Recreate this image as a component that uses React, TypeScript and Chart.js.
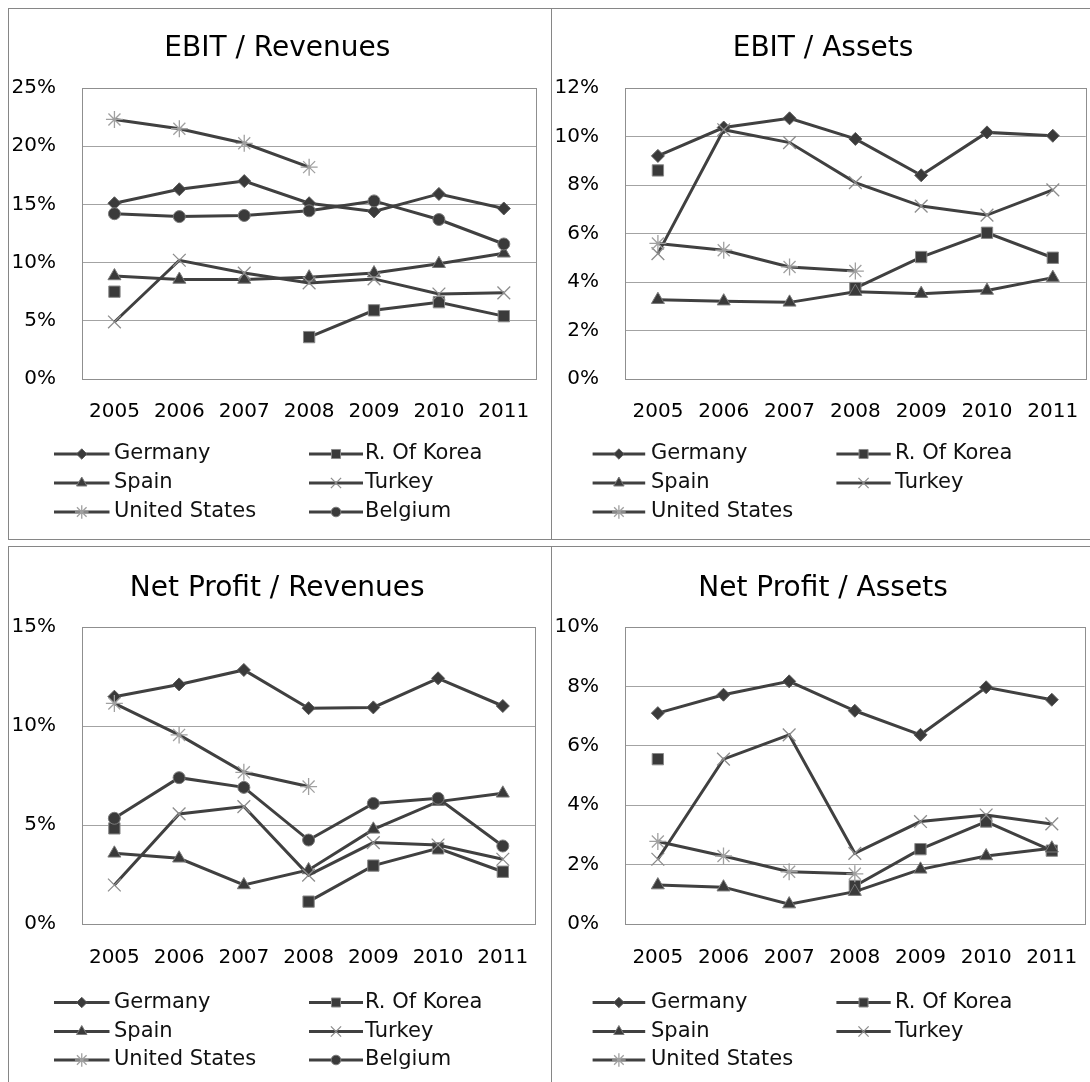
import React, { useEffect, useRef } from 'react';
import { Chart, registerables } from 'chart.js';
import { drawPoint } from 'chart.js/helpers';

Chart.register(...registerables);

const FONT = 'DejaVu Sans';

// ---------- data ----------
const years = ['2005', '2006', '2007', '2008', '2009', '2010', '2011'];
const seriesNames = ['Germany', 'R. Of Korea', 'Spain', 'Turkey', 'United States', 'Belgium'];

// EBIT / Revenues (%)
const erGermany = [15.1, 16.3, 17.0, 15.1, 14.4, 15.9, 14.65];
const erKorea = [7.5, null, null, 3.6, 5.9, 6.6, 5.4];
const erSpain = [8.85, 8.55, 8.55, 8.75, 9.1, 9.9, 10.8];
const erTurkey = [4.9, 10.2, 9.1, 8.25, 8.6, 7.3, 7.4];
const erUS = [22.3, 21.5, 20.25, 18.2, null, null, null];
const erBelgium = [14.2, 13.95, 14.05, 14.45, 15.3, 13.7, 11.6];

// EBIT / Assets (%)
const eaGermany = [9.2, 10.37, 10.75, 9.9, 8.4, 10.17, 10.03];
const eaKorea = [8.6, null, null, 3.75, 5.03, 6.03, 5.0];
const eaSpain = [3.27, 3.21, 3.16, 3.6, 3.52, 3.65, 4.18];
const eaTurkey = [5.17, 10.28, 9.75, 8.1, 7.13, 6.76, 7.8];
const eaUS = [5.59, 5.31, 4.62, 4.45, null, null, null];

// Net Profit / Revenues (%)
const nrGermany = [11.48, 12.1, 12.83, 10.9, 10.94, 12.41, 11.01];
const nrKorea = [4.83, null, null, 1.13, 2.95, 3.82, 2.64];
const nrSpain = [3.57, 3.32, 1.97, 2.73, 4.78, 6.18, 6.6];
const nrTurkey = [1.97, 5.56, 5.93, 2.47, 4.11, 3.99, 3.27];
const nrUS = [11.14, 9.55, 7.66, 6.94, null, null, null];
const nrBelgium = [5.34, 7.39, 6.9, 4.24, 6.09, 6.35, 3.94];

// Net Profit / Assets (%)
const naGermany = [7.1, 7.72, 8.17, 7.18, 6.37, 7.97, 7.55];
const naKorea = [5.55, null, null, 1.28, 2.52, 3.45, 2.47];
const naSpain = [1.31, 1.24, 0.67, 1.09, 1.84, 2.29, 2.55];
const naTurkey = [2.18, 5.55, 6.37, 2.38, 3.45, 3.67, 3.37];
const naUS = [2.78, 2.29, 1.76, 1.69, null, null, null];

// ---------- styles ----------
const LINE = '#404040';
const markerStyles: any[] = [
  { pointStyle: 'rectRot', radius: 6.5, bg: '#3a3a3a', border: '#5a5a5a', bw: 1 },
  { pointStyle: 'rect', radius: 8, bg: '#3a3a3a', border: '#8a8a8a', bw: 1 },
  { pointStyle: 'triangle', radius: 7.5, bg: '#3a3a3a', border: '#7a7a7a', bw: 1 },
  { pointStyle: 'crossRot', radius: 9, bg: '#8c8c8c', border: '#8c8c8c', bw: 1.3 },
  { pointStyle: 'star', radius: 8.5, bg: '#a0a0a0', border: '#a0a0a0', bw: 1.3 },
  { pointStyle: 'circle', radius: 6, bg: '#3a3a3a', border: '#7a7a7a', bw: 1 },
];

function makeDatasets(series: (number | null)[][]) {
  return series.map((data, i) => {
    const m = markerStyles[i];
    return {
      label: seriesNames[i],
      data,
      borderColor: LINE,
      borderWidth: 3,
      pointStyle: m.pointStyle,
      pointRadius: m.radius,
      pointBackgroundColor: m.bg,
      pointBorderColor: m.border,
      pointBorderWidth: m.bw,
      tension: 0,
      spanGaps: false,
      order: series.length - i,
      fill: false,
    };
  });
}

const plotBorderPlugin = {
  id: 'plotBorder',
  beforeDatasetsDraw(chart: any) {
    const { ctx, chartArea } = chart;
    ctx.save();
    ctx.strokeStyle = '#8f8f8f';
    ctx.lineWidth = 1;
    const l = Math.round(chartArea.left) + 0.5;
    const t = Math.round(chartArea.top) + 0.5;
    const r = Math.round(chartArea.right) + 0.5;
    const b = Math.round(chartArea.bottom) + 0.5;
    ctx.strokeRect(l, t, r - l, b - t);
    ctx.restore();
  },
};

const customLegendPlugin = {
  id: 'customLegend',
  afterDraw(chart: any, _args: any, opts: any) {
    const { ctx } = chart;
    const datasets = chart.data.datasets;
    ctx.save();
    datasets.forEach((ds: any, i: number) => {
      const row = Math.floor(i / 2);
      const col = i % 2;
      const y = opts.rows[row];
      const c = opts.cols[col];
      ctx.strokeStyle = ds.borderColor;
      ctx.lineWidth = ds.borderWidth;
      ctx.beginPath();
      ctx.moveTo(c.x1, y);
      ctx.lineTo(c.x2, y);
      ctx.stroke();
      ctx.fillStyle = ds.pointBackgroundColor;
      ctx.strokeStyle = ds.pointBorderColor;
      ctx.lineWidth = ds.pointBorderWidth;
      drawPoint(ctx, { pointStyle: ds.pointStyle, radius: ds.pointRadius * 0.8, rotation: 0, borderWidth: ds.pointBorderWidth }, (c.x1 + c.x2) / 2, y);
      ctx.fillStyle = '#111';
      ctx.font = `21px "${FONT}"`;
      ctx.textAlign = 'left';
      ctx.textBaseline = 'middle';
      ctx.fillText(ds.label, c.tx, y);
    });
    ctx.restore();
  },
};

const LEFT_COLS = [
  { x1: 45, x2: 100.5, tx: 105 },
  { x1: 300, x2: 354, tx: 356 },
];
const RIGHT_COLS = [
  { x1: 40.6, x2: 93.2, tx: 99 },
  { x1: 284.4, x2: 338.7, tx: 343 },
];

const TOP_ROW = { top: 8, height: 532, canvasH: 530, titleY: 39.5, plotTop: 79, plotBottom: 370, xPad: 21, rows: [445, 474, 503] };
const BOT_ROW = { top: 546, height: 545, canvasH: 543, titleY: 41.5, plotTop: 80, plotBottom: 377, xPad: 22, rows: [455.5, 484.5, 513] };
const LEFT_COL = { left: 8, width: 544, canvasW: 542, plotRight: 536.5, cols: LEFT_COLS };
const RIGHT_COL = { left: 551, width: 550, canvasW: 548, plotRight: 542, cols: RIGHT_COLS };

const X_AXIS_H = 55;
const Y_AXIS_W = 73;

function Panel(props: { title: string; series: (number | null)[][]; yMax: number; yStep: number; row: any; col: any }) {
  const ref = useRef<HTMLCanvasElement | null>(null);
  const { title, series, yMax, yStep, row, col } = props;
  useEffect(() => {
    if (!ref.current) return;
    const titlePadTop = row.titleY - 28 * 1.2 / 2;
    const titlePadBottom = row.plotTop - 28 * 1.2 - titlePadTop;
    const chart = new Chart(ref.current, {
      type: 'line',
      data: { labels: years, datasets: makeDatasets(series) as any },
      options: {
        animation: false,
        responsive: false,
        devicePixelRatio: 1,
        layout: {
          padding: {
            left: 0,
            top: 0,
            right: col.canvasW - col.plotRight,
            bottom: row.canvasH - row.plotBottom - X_AXIS_H,
          },
        },
        scales: {
          x: {
            offset: true,
            grid: { display: false, drawTicks: false },
            border: { display: false },
            ticks: { color: '#000', font: { family: FONT, size: 20 }, padding: row.xPad, maxRotation: 0, autoSkip: false },
            afterFit: (s: any) => { s.height = X_AXIS_H; },
          },
          y: {
            min: 0,
            max: yMax,
            grid: { color: '#a3a3a3', lineWidth: 1, drawTicks: false },
            border: { display: false },
            ticks: { stepSize: yStep, color: '#000', font: { family: FONT, size: 20 }, padding: 26, callback: (v: any) => `${v}%` },
            afterFit: (s: any) => { s.width = Y_AXIS_W; },
          },
        },
        plugins: {
          legend: { display: false },
          tooltip: { enabled: false },
          title: {
            display: true,
            text: title,
            color: '#000',
            font: { family: FONT, size: 28, weight: 'normal' },
            padding: { top: titlePadTop, bottom: titlePadBottom },
          },
          customLegend: { rows: row.rows, cols: col.cols },
        } as any,
      },
      plugins: [plotBorderPlugin, customLegendPlugin],
    });
    return () => chart.destroy();
  }, []);
  return (
    <div
      style={{
        position: 'absolute',
        left: col.left,
        top: row.top,
        width: col.width,
        height: row.height,
        border: '1px solid #868686',
        boxSizing: 'border-box',
        background: '#fff',
      }}
    >
      <canvas ref={ref} width={col.canvasW} height={row.canvasH} style={{ display: 'block' }} />
    </div>
  );
}

export default function App() {
  return (
    <div style={{ position: 'fixed', left: 0, top: 0, width: 1090, height: 1082, overflow: 'hidden', background: '#fff' }}>
      <Panel title="EBIT / Revenues" series={[erGermany, erKorea, erSpain, erTurkey, erUS, erBelgium]} yMax={25} yStep={5} row={TOP_ROW} col={LEFT_COL} />
      <Panel title="EBIT / Assets" series={[eaGermany, eaKorea, eaSpain, eaTurkey, eaUS]} yMax={12} yStep={2} row={TOP_ROW} col={RIGHT_COL} />
      <Panel title="Net Profit / Revenues" series={[nrGermany, nrKorea, nrSpain, nrTurkey, nrUS, nrBelgium]} yMax={15} yStep={5} row={BOT_ROW} col={LEFT_COL} />
      <Panel title="Net Profit / Assets" series={[naGermany, naKorea, naSpain, naTurkey, naUS]} yMax={10} yStep={2} row={BOT_ROW} col={RIGHT_COL} />
    </div>
  );
}
